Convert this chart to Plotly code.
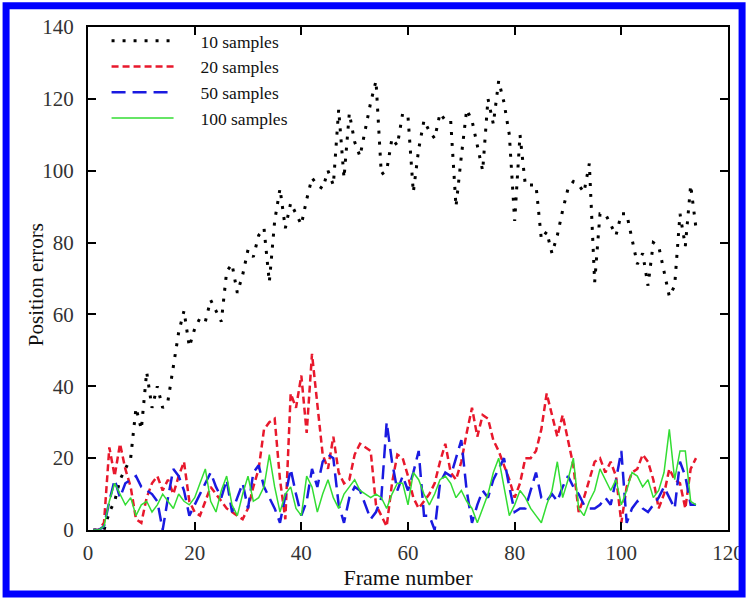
import plotly.graph_objects as go

# frame numbers 1..114
frames = list(range(1, 115))

# position errors, one value per frame
err_10 = [0, 0, 0, 5, 8, 14, 17, 20, 34, 28,
          44, 34, 40, 34, 36, 46, 55, 61, 51, 56,
          59, 58, 64, 61, 58, 72, 74, 66, 71, 78,
          76, 82, 84, 69, 86, 95, 84, 91, 88, 85,
          92, 98, 96, 95, 100, 96, 117, 98, 116, 108,
          104, 112, 119, 125, 99, 100, 109, 107, 116, 115,
          94, 106, 114, 111, 109, 116, 114, 114, 90, 104,
          117, 114, 107, 100, 120, 113, 125, 119, 110, 86,
          110, 96, 96, 96, 81, 83, 77, 82, 89, 95,
          97, 96, 94, 102, 69, 88, 88, 85, 82, 88,
          88, 81, 74, 77, 68, 80, 79, 72, 65, 68,
          88, 79, 96, 84]

err_20 = [0, 0, 2, 23, 15, 24, 17, 12, 3, 2,
          9, 13, 15, 11, 14, 10, 15, 19, 8, 5,
          4, 8, 12, 10, 8, 6, 5, 4, 3, 6,
          12, 17, 28, 30, 31, 14, 3, 38, 34, 43,
          27, 49, 34, 21, 17, 26, 16, 13, 14, 21,
          24, 23, 22, 7, 4, 1, 13, 21, 20, 15,
          9, 6, 8, 10, 13, 19, 24, 16, 14, 19,
          27, 34, 26, 32, 31, 25, 22, 18, 14, 9,
          13, 20, 20, 22, 28, 38, 32, 26, 32, 25,
          18, 5, 9, 14, 19, 20, 16, 19, 15, 2,
          12, 16, 17, 21, 19, 14, 6, 10, 17, 14,
          13, 6, 17, 20]

err_50 = [0, 0, 1, 8, 14, 9, 13, 14, 15, 12,
          11, 10, 8, 0, 9, 17, 15, 11, 4, 7,
          10, 13, 16, 12, 9, 14, 5, 9, 13, 6,
          16, 18, 12, 9, 6, 2, 10, 17, 10, 4,
          8, 17, 12, 19, 21, 20, 7, 2, 9, 12,
          11, 7, 3, 5, 9, 30, 19, 11, 15, 11,
          16, 22, 4, 4, 0, 13, 16, 15, 20, 25,
          11, 2, 7, 11, 9, 14, 17, 20, 12, 5,
          6, 6, 11, 16, 9, 8, 10, 8, 12, 15,
          12, 10, 7, 6, 6, 7, 9, 7, 14, 22,
          2, 6, 8, 6, 5, 7, 9, 12, 9, 6,
          19, 15, 7, 7]

err_100 = [0, 0, 1, 8, 13, 10, 7, 9, 4, 7,
           8, 5, 7, 10, 8, 6, 10, 8, 7, 9,
           13, 17, 8, 5, 11, 15, 7, 4, 10, 15,
           8, 9, 12, 21, 12, 5, 10, 12, 6, 4,
           15, 12, 5, 10, 14, 9, 6, 10, 12, 14,
           11, 10, 9, 10, 9, 6, 10, 13, 13, 7,
           16, 14, 10, 7, 10, 14, 15, 13, 9, 11,
           8, 6, 2, 6, 10, 16, 20, 12, 4, 7,
           11, 9, 6, 4, 2, 7, 11, 19, 9, 14,
           20, 6, 4, 8, 11, 17, 14, 11, 14, 7,
           11, 16, 15, 12, 14, 9, 11, 16, 28, 14,
           22, 22, 8, 7]

labels = ["10 samples", "20 samples", "50 samples", "100 samples"]
series = [err_10, err_20, err_50, err_100]
styles = [
    dict(color="#000000", width=3, dash="3px,8px"),
    dict(color="#e8182c", width=2.5, dash="7px,4px"),
    dict(color="#1a1ae0", width=2.5, dash="14px,7px"),
    dict(color="#33dd33", width=1.5, dash="solid"),
]

fig = go.Figure()
for name, vals, st in zip(labels, series, styles):
    # non-breaking spaces push the label text away from the line sample
    fig.add_trace(go.Scatter(x=frames, y=vals, mode="lines",
                             name="\u00a0\u00a0\u00a0\u00a0\u00a0" + name, line=st))

serif = "Liberation Serif, Times New Roman, serif"
axis_common = dict(
    showgrid=False, zeroline=False, automargin=False,
    showline=True, linecolor="black", linewidth=2, mirror="ticks",
    ticks="inside", ticklen=8, tickwidth=1.5, tickcolor="black",
    tickfont=dict(family=serif, size=21, color="#333333"),
    dtick=20,
)

fig.update_layout(
    width=746, height=598,
    margin=dict(l=88, r=18, t=27, b=68),
    paper_bgcolor="white", plot_bgcolor="white",
    font=dict(family=serif, color="#111111"),
    xaxis=dict(range=[0, 120], tick0=0,
               title=dict(text="Frame number", font=dict(family=serif, size=22), standoff=0),
               ticklabelstandoff=3, **axis_common),
    yaxis=dict(range=[0, 140], tick0=0, ticklabelstandoff=8, **axis_common),
    legend=dict(x=0.029, y=1.008, xanchor="left", yanchor="top",
                bgcolor="rgba(0,0,0,0)", itemwidth=62,
                font=dict(family=serif, size=17.5, color="#111111")),
    showlegend=True,
)

# y title as an annotation so it can sit close to the tick labels
fig.add_annotation(text="Position errors", xref="paper", yref="paper",
                   x=-0.081, y=0.487, xanchor="center", yanchor="middle",
                   textangle=-90, showarrow=False,
                   font=dict(family=serif, size=21, color="#111111"))

# blue frame round the whole picture
fig.add_shape(type="rect", xref="paper", yref="paper",
              x0=-0.128, x1=1.022, y0=-0.127, y1=1.042,
              line=dict(color="#0000ff", width=7), fillcolor="rgba(0,0,0,0)")

# drop the page's default 8px body margin so the figure sits at the window corner
fig.write_html("out.html", config={"displayModeBar": False},
               post_script="document.body.style.margin='0';")
